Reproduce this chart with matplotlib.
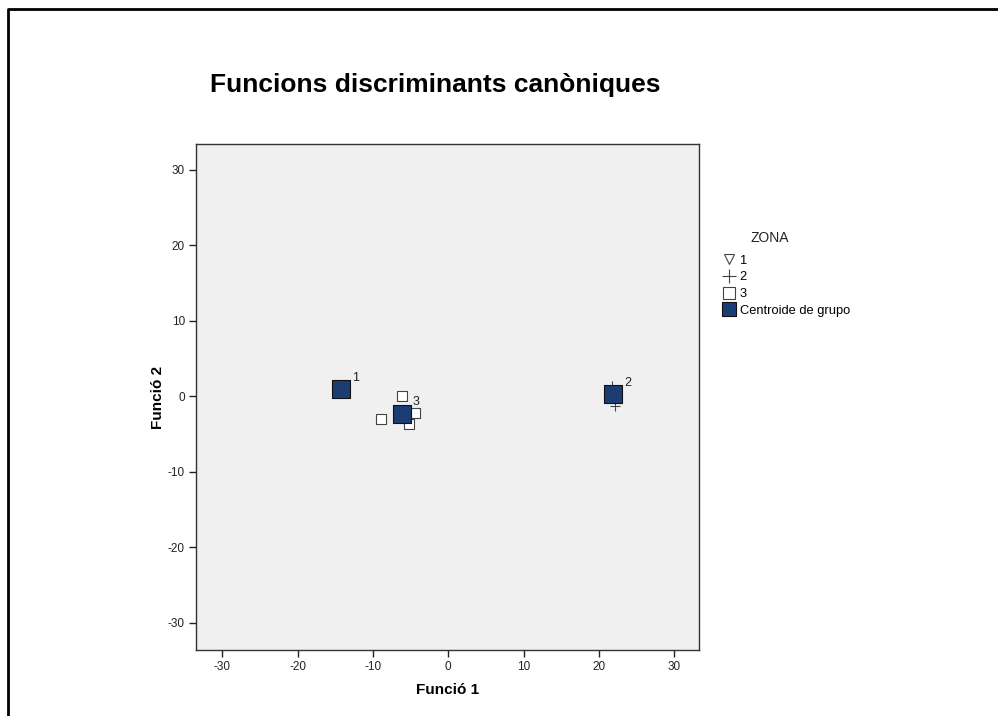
import matplotlib
matplotlib.use("Agg")
import matplotlib.pyplot as plt
from matplotlib.lines import Line2D

plt.rcParams['font.family'] = ['Liberation Sans', 'DejaVu Sans']
plt.rcParams['axes.unicode_minus'] = False

# Data
g1_x = [-14.3]
g1_y = [0.3]
g2_x = [21.8, 22.2]
g2_y = [1.4, -1.3]
g3_x = [-6.2, -8.9, -4.4, -5.2]
g3_y = [0.0, -3.05, -2.2, -3.7]
cent_x = [-14.25, 21.85, -6.2]
cent_y = [0.9, 0.3, -2.3]
cent_labels = ["1", "2", "3"]
ticks = [-30, -20, -10, 0, 10, 20, 30]

fig = plt.figure(figsize=(9.98, 7.16), dpi=100)
ax = fig.add_axes([0.1964, 0.0922, 0.5040, 0.7067])
ax.set_facecolor('#F0F0F0')

navy = '#1B3D73'
ax.scatter(g1_x, g1_y, marker='v', s=45, facecolors='none', edgecolors='#444444', linewidths=0.8, zorder=2)
ax.scatter(g2_x, g2_y, marker='+', s=45, color='#444444', linewidths=0.8, zorder=2)
ax.scatter(g3_x, g3_y, marker='s', s=45, facecolors='white', edgecolors='#444444', linewidths=0.8, zorder=2)
ax.scatter(cent_x, cent_y, marker='s', s=150, facecolors=navy, edgecolors='#111111', linewidths=0.8, zorder=3)
for x, y, t in zip(cent_x, cent_y, cent_labels):
    ax.annotate(t, (x, y), xytext=(8, 6), textcoords='offset points', fontsize=9, color='#222222')

ax.set_xlim(-33.5, 33.3)
ax.set_ylim(-33.6, 33.4)
ax.set_xticks(ticks)
ax.set_yticks(ticks)
ax.tick_params(direction='out', length=5, width=1, labelsize=8.5, color='#222222', labelcolor='#222222', pad=3)
for sp in ax.spines.values():
    sp.set_color('#333333')
    sp.set_linewidth(1)

ax.set_xlabel('Funció 1', fontsize=11, fontweight='bold', labelpad=7)
ax.set_ylabel('Funció 2', fontsize=11, fontweight='bold', labelpad=2)

fig.text(0.2104, 0.881, 'Funcions discriminants canòniques', fontsize=19, fontweight='bold', ha='left', va='center')

handles = [
    Line2D([], [], marker='v', linestyle='none', markerfacecolor='none', markeredgecolor='#444444', markersize=7.5, markeredgewidth=0.8),
    Line2D([], [], marker='+', linestyle='none', color='#444444', markersize=10, markeredgewidth=0.8),
    Line2D([], [], marker='s', linestyle='none', markerfacecolor='white', markeredgecolor='#444444', markersize=9, markeredgewidth=0.8),
    Line2D([], [], marker='s', linestyle='none', markerfacecolor=navy, markeredgecolor='#111111', markersize=10, markeredgewidth=0.8),
]
leg = fig.legend(handles, ['1', '2', '3', 'Centroide de grupo'],
                 loc='upper left', bbox_to_anchor=(0.716, 0.657), frameon=False,
                 fontsize=9.3, handlelength=0.9, handletextpad=0.35,
                 labelspacing=0.36, borderpad=0.2)
fig.text(0.7715, 0.668, 'ZONA', fontsize=10, color='#222222', ha='center', va='center')

# outer frame
fig.add_artist(Line2D([0.0085, 0.0085, 1.0], [0.0, 0.9875, 0.9875], transform=fig.transFigure, color='black', linewidth=2))

fig.savefig('out.png', dpi=100)
